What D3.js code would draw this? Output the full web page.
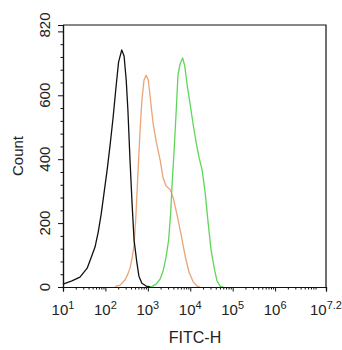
<!DOCTYPE html>
<html>
<head>
<meta charset="utf-8">
<script src="https://cdn.jsdelivr.net/npm/d3@7"></script>
<style>
  body { margin: 0; background: #fff; }
  text { font-family: "Liberation Sans", Arial, sans-serif; fill: #222; }
</style>
</head>
<body>
<svg id="chart"></svg>
<script>
// Histogram data: x as log10(FITC-H), y as counts
var blackX = [1.0, 1.21, 1.40, 1.57, 1.66, 1.755, 1.83, 1.90, 1.97, 2.04, 2.11, 2.18, 2.25, 2.31, 2.385, 2.44, 2.49, 2.53, 2.58, 2.63, 2.675, 2.74, 2.79, 2.86, 2.96, 3.05];
var blackY = [9, 19, 31, 59, 91, 125, 172, 228, 297, 366, 444, 529, 626, 704, 742, 723, 648, 554, 397, 257, 147, 78, 34, 12, 3, 0];

var orangeX = [2.23, 2.345, 2.46, 2.53, 2.58, 2.63, 2.675, 2.72, 2.77, 2.82, 2.86, 2.91, 2.96, 3.01, 3.05, 3.12, 3.19, 3.29, 3.36, 3.43, 3.53, 3.60, 3.69, 3.785, 3.88, 3.97, 4.07, 4.16, 4.23];
var orangeY = [2, 6, 22, 41, 59, 91, 131, 225, 366, 498, 585, 648, 663, 648, 601, 516, 460, 397, 341, 316, 304, 278, 225, 163, 97, 47, 16, 3, 0];

var greenX = [2.98, 3.10, 3.195, 3.29, 3.36, 3.43, 3.49, 3.54, 3.57, 3.62, 3.67, 3.71, 3.76, 3.82, 3.87, 3.93, 4.00, 4.07, 4.14, 4.21, 4.28, 4.35, 4.42, 4.49, 4.565, 4.63, 4.705, 4.78];
var greenY = [0, 2, 9, 25, 50, 94, 147, 235, 319, 429, 554, 663, 698, 717, 692, 629, 570, 507, 451, 404, 366, 297, 203, 116, 59, 19, 3, 0];

var xTickExp = [1, 2, 3, 4, 5, 6, 7.2];
var xTickSup = ["1", "2", "3", "4", "5", "6", "7.2"];
var yTickVals = [0, 200, 400, 600, 800];
var yTickLabels = ["0", "200", "400", "600", "820"];

var width = 342, height = 350;
var margin = { top: 25, right: 16, bottom: 63, left: 63 };

var svg = d3.select('#chart').attr('width', width).attr('height', height);

var x = d3.scaleLog().domain([10, Math.pow(10, 7.2)]).range([margin.left, width - margin.right]);
var y = d3.scaleLinear().domain([0, 820]).range([height - margin.bottom, margin.top]);

var x0 = margin.left, x1 = width - margin.right;
var y0 = height - margin.bottom, y1 = margin.top;

// frame: top and right lines
svg.append('path')
    .attr('d', 'M' + x0 + ',' + y1 + 'H' + x1 + 'V' + y0)
    .attr('fill', 'none').attr('stroke', '#111').attr('stroke-width', 1.2);

// curves
var line = d3.line()
    .x(function (d) { return x(Math.pow(10, d[0])); })
    .y(function (d) { return y(d[1]); });

function draw(xs, ys, color) {
    svg.append('path')
        .datum(d3.zip(xs, ys))
        .attr('d', line)
        .attr('fill', 'none')
        .attr('stroke', color)
        .attr('stroke-width', 1.3)
        .attr('stroke-linejoin', 'round');
}
draw(orangeX, orangeY, '#e9a577');
draw(greenX, greenY, '#5fd65a');
draw(blackX, blackY, '#111');

// x axis with log minor ticks
var xMinor = [];
for (var d = 1; d < 8; d++) {
    for (var k = 2; k < 10; k++) {
        var v = k * Math.pow(10, d);
        if (v < Math.pow(10, 7.2)) xMinor.push(v);
    }
}
var xMajor = xTickExp.map(function (e) { return Math.pow(10, e); });

var xAxis = svg.append('g').attr('transform', 'translate(0,' + y0 + ')');
xAxis.call(d3.axisBottom(x).tickValues(xMinor).tickSize(2.5).tickFormat(''));
xAxis.append('g').call(d3.axisBottom(x).tickValues(xMajor).tickSize(4.5).tickFormat(''));
xAxis.selectAll('.domain').attr('stroke', '#111').attr('stroke-width', 1.2);
xAxis.selectAll('line').attr('stroke', '#111');

var xLab = svg.append('g').selectAll('text')
    .data(xMajor).enter().append('text')
    .attr('x', function (v) { return x(v); })
    .attr('y', 315)
    .attr('text-anchor', 'middle')
    .style('font-size', '15px');
xLab.append('tspan').text('10');
xLab.append('tspan')
    .attr('dy', -6)
    .style('font-size', '11px')
    .text(function (v, i) { return xTickSup[i]; });

// y axis
var yMinor = d3.range(0, 821, 40).filter(function (v) { return v % 200 !== 0; });
var yAxis = svg.append('g').attr('transform', 'translate(' + x0 + ',0)');
yAxis.call(d3.axisLeft(y).tickValues(yMinor).tickSize(2.5).tickFormat(''));
yAxis.append('g').call(d3.axisLeft(y).tickValues(yTickVals).tickSize(5).tickFormat(''));
yAxis.selectAll('.domain').attr('stroke', '#111').attr('stroke-width', 1.2);
yAxis.selectAll('line').attr('stroke', '#111');

svg.append('g').selectAll('text')
    .data(yTickLabels).enter().append('text')
    .attr('transform', function (t, i) {
        var v = i === yTickLabels.length - 1 ? 820 : yTickVals[i];
        return 'translate(50,' + y(v) + ')rotate(-90)';
    })
    .attr('text-anchor', 'middle')
    .style('font-size', '15px')
    .text(function (t) { return t; });

// axis titles
svg.append('text')
    .attr('x', 195).attr('y', 343)
    .attr('text-anchor', 'middle')
    .style('font-size', '16px')
    .text('FITC-H');

svg.append('text')
    .attr('transform', 'translate(23,' + (y0 + y1) / 2 + ')rotate(-90)')
    .attr('text-anchor', 'middle')
    .style('font-size', '15px')
    .text('Count');
</script>
</body>
</html>
